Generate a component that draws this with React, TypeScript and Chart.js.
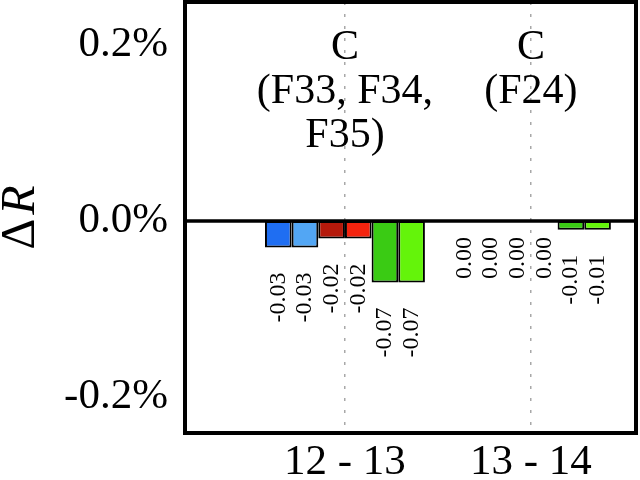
import React, { useEffect, useRef } from "react";
import { Chart, registerables } from "chart.js";

Chart.register(...registerables);

// ---- data ----
const categories = ["12 - 13", "13 - 14"];
const seriesNames = ["Blue A", "Blue B", "Red A", "Red B", "Green A", "Green B"];
const blueA = [-0.03, 0.0];
const blueB = [-0.03, 0.0];
const redA = [-0.02, 0.0];
const redB = [-0.02, 0.0];
const greenA = [-0.07, -0.01];
const greenB = [-0.07, -0.01];
const seriesValues = [blueA, blueB, redA, redB, greenA, greenB];
const seriesColors = ["#1f6ef2", "#52a6f4", "#b5190b", "#f4230e", "#3acb14", "#64f40a"];
const yTickValues = [-0.2, 0, 0.2];
const annotations = [
  ["C", "(F33, F34,", "F35)"],
  ["C", "(F24)"],
];
const yTitleParts = ["Δ", "R"];

const serif = "'Liberation Serif', 'Times New Roman', serif";

const decorPlugin = {
  id: "decor",
  afterDatasetsDraw(chart: any) {
    const { ctx, chartArea: a, scales } = chart;
    const xs = scales.x;
    const ys = scales.y;
    ctx.save();

    // value labels (rotated)
    ctx.font = `24px ${serif}`;
    ctx.fillStyle = "#000";
    chart.data.datasets.forEach((_: any, di: number) => {
      const meta = chart.getDatasetMeta(di);
      meta.data.forEach((el: any, i: number) => {
        const v = seriesValues[di][i];
        const top = el.y + (v < 0 ? 25 : 16);
        ctx.save();
        ctx.translate(el.x, top);
        ctx.rotate(-Math.PI / 2);
        ctx.textAlign = "right";
        ctx.textBaseline = "middle";
        ctx.fillText(v.toFixed(2), 0, 0);
        ctx.restore();
      });
    });

    // annotations
    ctx.font = `42px ${serif}`;
    ctx.textAlign = "center";
    ctx.textBaseline = "middle";
    annotations.forEach((lines, i) => {
      const cx = xs.getPixelForValue(i);
      const y0 = ys.getPixelForValue(0.2) + 3;
      lines.forEach((t, j) => ctx.fillText(t, cx, y0 + j * 44));
    });

    // zero line
    const zy = ys.getPixelForValue(0);
    ctx.strokeStyle = "#000";
    ctx.lineWidth = 3.5;
    ctx.beginPath();
    ctx.moveTo(a.left, zy);
    ctx.lineTo(a.right, zy);
    ctx.stroke();

    // frame
    ctx.lineWidth = 4;
    ctx.strokeRect(a.left, a.top, a.right - a.left, a.bottom - a.top);

    // y title ΔR
    const fs = 48;
    const fontN = `${fs}px ${serif}`;
    const fontI = `italic ${fs}px ${serif}`;
    ctx.font = fontN;
    const w1 = ctx.measureText(yTitleParts[0]).width;
    ctx.font = fontI;
    const w2 = ctx.measureText(yTitleParts[1]).width;
    const gap = 4;
    const total = w1 + gap + w2;
    const cy = (a.top + a.bottom) / 2;
    ctx.save();
    ctx.translate(34, cy);
    ctx.rotate(-Math.PI / 2);
    ctx.textAlign = "left";
    ctx.textBaseline = "alphabetic";
    ctx.font = fontN;
    ctx.fillText(yTitleParts[0], -total / 2, 0);
    ctx.font = fontI;
    ctx.fillText(yTitleParts[1], -total / 2 + w1 + gap, 0);
    ctx.restore();

    ctx.restore();
  },
};

export default function App() {
  const ref = useRef<HTMLCanvasElement | null>(null);

  useEffect(() => {
    if (!ref.current) return;
    const chart = new Chart(ref.current, {
      type: "bar",
      data: {
        datasets: seriesValues.map((vals, di) => ({
          label: seriesNames[di],
          data: vals.map((v, i) => ({ x: i, y: v })),
          backgroundColor: seriesColors[di],
          borderColor: "#000",
          borderWidth: 2,
          borderSkipped: false,
          categoryPercentage: 0.86,
          barPercentage: 1,
        })),
      },
      options: {
        responsive: false,
        animation: false,
        layout: { padding: { left: 0, top: 2, right: 4, bottom: 0 } },
        plugins: {
          legend: { display: false },
          tooltip: { enabled: false },
        },
        scales: {
          x: {
            type: "linear",
            min: -0.86,
            max: 1.565,
            offset: false,
            afterBuildTicks: (s: any) => {
              s.ticks = categories.map((_, i) => ({ value: i }));
            },
            afterFit: (s: any) => {
              s.height = 47;
              s.paddingLeft = 0;
              s.paddingRight = 0;
              s.paddingTop = 0;
              s.paddingBottom = 0;
            },
            ticks: {
              callback: (v: any) => categories[Math.round(Number(v))] ?? "",
              font: { family: serif, size: 43 },
              color: "#000",
              padding: 4,
              maxRotation: 0,
              autoSkip: false,
            },
            grid: {
              display: true,
              offset: false,
              drawOnChartArea: true,
              drawTicks: false,
              tickLength: 0,
              color: "#a8a8a8",
              lineWidth: 1.5,
            },
            border: { display: false, dash: [3, 9] },
          },
          y: {
            min: -0.241,
            max: 0.249,
            afterBuildTicks: (s: any) => {
              s.ticks = yTickValues.map((v) => ({ value: v }));
            },
            afterFit: (s: any) => {
              s.width = 185;
              s.paddingTop = 0;
              s.paddingBottom = 0;
              s.paddingLeft = 0;
              s.paddingRight = 0;
            },
            ticks: {
              callback: (v: any) => Number(v).toFixed(1) + "%",
              font: { family: serif, size: 43 },
              color: "#000",
              padding: 17,
            },
            grid: { display: false, drawTicks: false, tickLength: 0 },
            border: { display: false },
          },
        },
      },
      plugins: [decorPlugin],
    } as any);
    return () => chart.destroy();
  }, []);

  return (
    <div style={{ position: "fixed", left: 0, top: 0, width: 640, height: 480, background: "#fff" }}>
      <canvas ref={ref} width={640} height={480} />
    </div>
  );
}
